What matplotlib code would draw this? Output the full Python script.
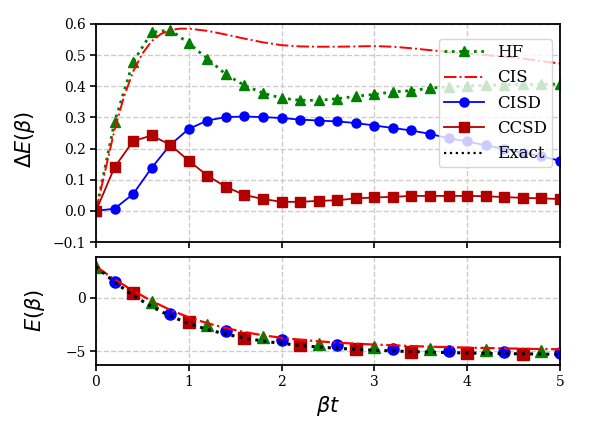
import numpy as np
import matplotlib
matplotlib.use("Agg")
import matplotlib.pyplot as plt

plt.rcParams['font.family'] = 'serif'
plt.rcParams['font.serif'] = ['DejaVu Serif']
plt.rcParams['mathtext.fontset'] = 'dejavusans'

# ---- data (top panel: Delta E) ----
t = [0.0, 0.2, 0.4, 0.6, 0.8, 1.0, 1.2, 1.4, 1.6, 1.8, 2.0, 2.2, 2.4, 2.6,
     2.8, 3.0, 3.2, 3.4, 3.6, 3.8, 4.0, 4.2, 4.4, 4.6, 4.8, 5.0]
dE_hf = [0.0, 0.285, 0.478, 0.573, 0.581, 0.538, 0.489, 0.438, 0.403, 0.378,
         0.362, 0.355, 0.355, 0.360, 0.368, 0.374, 0.382, 0.386, 0.394, 0.398,
         0.401, 0.403, 0.405, 0.406, 0.406, 0.407]
dE_cisd = [0.0, 0.007, 0.054, 0.138, 0.212, 0.263, 0.290, 0.301, 0.303, 0.301,
           0.298, 0.293, 0.290, 0.287, 0.282, 0.274, 0.266, 0.258, 0.247, 0.233,
           0.223, 0.210, 0.199, 0.186, 0.175, 0.161]
dE_ccsd = [0.0, 0.140, 0.224, 0.242, 0.212, 0.161, 0.113, 0.077, 0.051, 0.038,
           0.029, 0.029, 0.032, 0.034, 0.040, 0.043, 0.045, 0.048, 0.048, 0.048,
           0.048, 0.047, 0.044, 0.042, 0.040, 0.038]
t_cis = [0.0, 0.1, 0.2, 0.3, 0.4, 0.5, 0.6, 0.7, 0.8, 0.9, 1.0, 1.2, 1.4, 1.6,
         1.8, 2.0, 2.2, 2.4, 2.6, 2.8, 3.0, 3.2, 3.4, 3.6, 3.8, 4.0, 4.2, 4.4,
         4.6, 4.8, 5.0]
dE_cis = [0.0, 0.13, 0.26, 0.365, 0.447, 0.505, 0.545, 0.568, 0.580, 0.585,
          0.585, 0.578, 0.566, 0.553, 0.541, 0.532, 0.528, 0.527, 0.527, 0.528,
          0.529, 0.527, 0.522, 0.516, 0.510, 0.505, 0.500, 0.495, 0.489, 0.481,
          0.473]

# ---- data (bottom panel: E) ----
E_exact = [2.9, 1.45, 0.2, -0.85, -1.72, -2.42, -2.98, -3.42, -3.78, -4.06,
           -4.29, -4.47, -4.62, -4.74, -4.84, -4.92, -4.99, -5.05, -5.10, -5.14,
           -5.18, -5.21, -5.24, -5.26, -5.28, -5.30]
E_cis = [2.9, 1.7, 0.65, -0.32, -1.15, -1.84, -2.4, -2.85, -3.23, -3.52,
         -3.76, -3.94, -4.09, -4.21, -4.31, -4.39, -4.46, -4.53, -4.59, -4.63,
         -4.68, -4.71, -4.75, -4.78, -4.81, -4.83]
t_hf_m = [0.0, 0.6, 1.2, 1.8, 2.4, 3.0, 3.6, 4.2, 4.8]
E_hf_m = [2.9, -0.43, -2.56, -3.71, -4.37, -4.65, -4.78, -4.88, -4.95]
t_cisd_m = [0.2, 0.8, 1.4, 2.0, 2.6, 3.2, 3.8, 4.4, 5.0]
E_cisd_m = [1.5, -1.56, -3.09, -3.96, -4.43, -4.76, -4.95, -5.08, -5.18]
t_ccsd_m = [0.4, 1.0, 1.6, 2.2, 2.8, 3.4, 4.0, 4.6]
E_ccsd_m = [0.41, -2.25, -3.75, -4.43, -4.84, -5.05, -5.18, -5.25]

c_hf = 'green'
c_cis = 'red'
c_cisd = 'blue'
c_ccsd = '#b00000'

fig = plt.figure(figsize=(5.94, 4.40), dpi=100)
ax1 = fig.add_axes([0.1616, 0.450, 0.781, 0.4955])
ax2 = fig.add_axes([0.1616, 0.1705, 0.781, 0.2455])

ms = 6.5
ax1.plot(t, dE_hf, color=c_hf, ls=':', lw=2.0, marker='^', ms=ms, label='HF')
ax1.plot(t_cis, dE_cis, color=c_cis, ls='-.', lw=1.4, label='CIS')
ax1.plot(t, dE_cisd, color=c_cisd, ls='-', lw=1.3, marker='o', ms=ms, label='CISD')
ax1.plot(t, dE_ccsd, color=c_ccsd, ls='-', lw=1.3, marker='s', ms=ms, label='CCSD')
ax1.plot([], [], color='black', ls=':', lw=1.6, label='Exact')

ax2.plot(t, E_cis, color=c_cis, ls='-.', lw=1.6, zorder=3)
ax2.plot(t, E_exact, color='black', ls=':', lw=2.2, zorder=4)
ax2.plot(t_hf_m, E_hf_m, color=c_hf, ls='none', marker='^', ms=8, zorder=2)
ax2.plot(t_cisd_m, E_cisd_m, color=c_cisd, ls='none', marker='o', ms=8, zorder=2)
ax2.plot(t_ccsd_m, E_ccsd_m, color=c_ccsd, ls='none', marker='s', ms=8, zorder=2)

for ax in (ax1, ax2):
    ax.set_xlim(0, 5)
    ax.grid(True, ls='--', color='#cccccc', lw=1.0)
    ax.set_axisbelow(True)
    ax.tick_params(labelsize=10, width=1.2, length=4)
    for s in ax.spines.values():
        s.set_linewidth(1.3)

ax1.set_ylim(-0.1, 0.6)
ax1.set_yticks([-0.1, 0.0, 0.1, 0.2, 0.3, 0.4, 0.5, 0.6])
ax1.set_xticks([0, 1, 2, 3, 4, 5])
ax1.set_xticklabels([])
ax1.set_ylabel(r'$\Delta E(\beta)$', fontsize=15)
ax1.yaxis.set_label_coords(-0.127, 0.47)

ax2.set_ylim(-6.3, 3.8)
ax2.set_yticks([-5, 0])
ax2.set_xticks([0, 1, 2, 3, 4, 5])
ax2.set_ylabel(r'$E(\beta)$', fontsize=15)
ax2.yaxis.set_label_coords(-0.106, 0.5)
ax2.set_xlabel(r'$\beta t$', fontsize=15, labelpad=3)

ax1.legend(loc='upper right', bbox_to_anchor=(0.983, 0.931), borderaxespad=0,
           fontsize=12, framealpha=0.8, handlelength=2.4, borderpad=0.3,
           labelspacing=0.5)

fig.savefig('out.png', dpi=100)
